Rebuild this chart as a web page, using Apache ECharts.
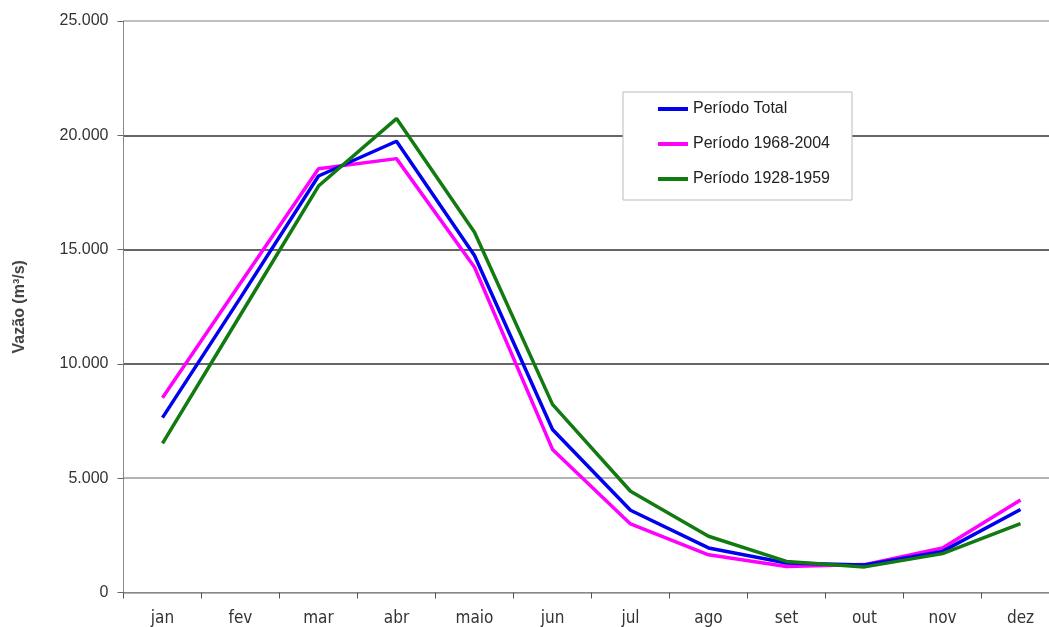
<!DOCTYPE html>
<html>
<head>
<meta charset="utf-8">
<script src="https://cdn.jsdelivr.net/npm/echarts@6/dist/echarts.min.js"></script>
<style>html,body{margin:0;padding:0;background:#fff}#c{width:1049px;height:627px}</style>
</head>
<body>
<div id="c"></div>
<script>
const months = ['jan','fev','mar','abr','maio','jun','jul','ago','set','out','nov','dez'];
const periodoTotal = [7650, 12900, 18220, 19740, 14740, 7130, 3600, 1950, 1290, 1200, 1800, 3630];
const periodo1968_2004 = [8520, 13540, 18540, 18980, 14230, 6260, 3000, 1650, 1140, 1220, 1950, 4050];
const periodo1928_1959 = [6520, 12150, 17780, 20730, 15760, 8230, 4430, 2460, 1360, 1120, 1700, 3010];
const yTicks = [0, 5000, 10000, 15000, 20000, 25000];
const seriesNames = ['Período Total', 'Período 1968-2004', 'Período 1928-1959'];

const chart = echarts.init(document.getElementById('c'), null, {renderer: 'canvas'});
function fmt(v){ return v === 0 ? '0' : v.toLocaleString('de-DE'); }
chart.setOption({
  animation: false,
  backgroundColor: '#fff',
  grid: {left: 123.5, right: -10.5, top: 21, bottom: 34.5, containLabel: false, outerBoundsMode: 'none'},
  legend: {
    orient: 'vertical', left: 623, top: 92,
    data: seriesNames,
    icon: 'rect', itemWidth: 30, itemHeight: 4, itemGap: 19,
    padding: [9, 22, 13, 35],
    borderColor: '#bbb', borderWidth: 1, backgroundColor: '#fff',
    textStyle: {fontFamily: 'Liberation Sans, Arial, sans-serif', fontSize: 16, color: '#222'}
  },
  xAxis: {
    type: 'category', data: months, boundaryGap: true,
    axisLine: {lineStyle: {color: '#888', width: 1}},
    axisTick: {show: true, alignWithLabel: false, length: 6, lineStyle: {color: '#555'}},
    axisLabel: {margin: 18, fontFamily: 'Liberation Sans Narrow, DejaVu Sans Condensed, sans-serif', fontSize: 17, color: '#333'}
  },
  yAxis: {
    type: 'value', min: 0, max: 25000, interval: 5000,
    name: 'Vazão (m³/s)', nameLocation: 'middle', nameGap: 96, nameRotate: 90,
    nameTextStyle: {fontFamily: 'Liberation Sans, Arial, sans-serif', fontSize: 16, fontWeight: 'bold', color: '#444'},
    axisLine: {show: true, lineStyle: {color: '#888'}},
    axisTick: {show: true, length: 6, lineStyle: {color: '#666'}},
    axisLabel: {margin: 15, fontFamily: 'Liberation Sans, Arial, sans-serif', fontSize: 16, color: '#333', formatter: fmt},
    splitLine: {show: true, lineStyle: {color: ['#999','#999','#333','#333','#333','#aaa'], width: 1.5}}
  },
  series: [
    {name: seriesNames[0], type: 'line', data: periodoTotal, symbol: 'none', lineStyle: {color: '#0000ee', width: 3.5}, itemStyle: {color: '#0000ee'}, z: 4},
    {name: seriesNames[1], type: 'line', data: periodo1968_2004, symbol: 'none', lineStyle: {color: '#ff00ff', width: 3.5}, itemStyle: {color: '#ff00ff'}, z: 3},
    {name: seriesNames[2], type: 'line', data: periodo1928_1959, symbol: 'none', lineStyle: {color: '#117a11', width: 3.5}, itemStyle: {color: '#117a11'}, z: 5}
  ]
});
</script>
</body>
</html>
